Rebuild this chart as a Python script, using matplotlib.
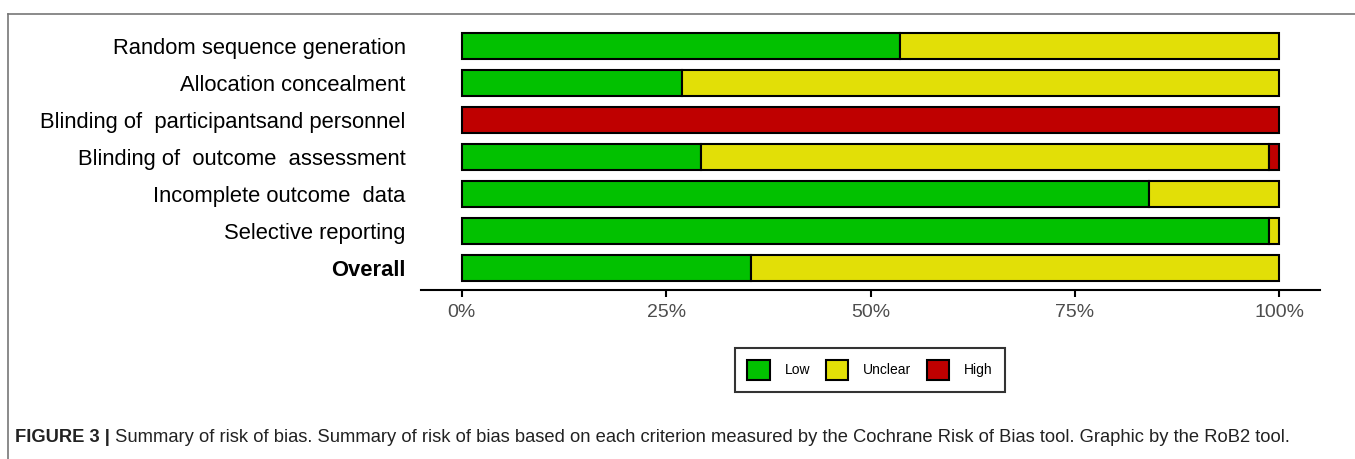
import matplotlib
matplotlib.use("Agg")
import matplotlib.pyplot as plt
from matplotlib.patches import Patch
from matplotlib.lines import Line2D

domains = ["Random sequence generation", "Allocation concealment",
           "Blinding of  participantsand personnel", "Blinding of  outcome  assessment",
           "Incomplete outcome  data", "Selective reporting", "Overall"]
low = [53.6, 26.9, 0.0, 29.3, 84.1, 98.7, 35.4]
unclear = [46.4, 73.1, 0.0, 69.4, 15.9, 1.3, 64.6]
high = [0.0, 0.0, 100.0, 1.3, 0.0, 0.0, 0.0]
levels = ["Low", "Unclear", "High"]
colors = ["#02C100", "#E2DF07", "#BF0000"]
ticks = [0, 25, 50, 75, 100]
tick_labels = ["0%", "25%", "50%", "75%", "100%"]
caption_bold = "FIGURE 3 |"
caption_rest = " Summary of risk of bias. Summary of risk of bias based on each criterion measured by the Cochrane Risk of Bias tool. Graphic by the RoB2 tool."

plt.rcParams['font.family'] = ['Liberation Sans', 'DejaVu Sans']

W, H = 1355, 459
fig = plt.figure(figsize=(W / 100, H / 100), dpi=100)
ax = fig.add_axes([421 / W, 1 - 290 / H, (1320 - 421) / W, (290 - 24) / H])

ypos = list(range(len(domains)))
series = [low, unclear, high]
left = [0.0] * len(domains)
for vals, col in zip(series, colors):
    for i, v in enumerate(vals):
        if v > 0:
            ax.barh(ypos[i], v, left=left[i], height=0.7, color=col,
                    edgecolor="black", linewidth=1.5)
    left = [l + v for l, v in zip(left, vals)]

ax.set_xlim(-5, 105)
ax.set_ylim(len(domains) - 0.4, -0.6)
ax.set_yticks(ypos)
ax.set_yticklabels(domains, fontsize=15.8, color="black")
for lbl in ax.get_yticklabels():
    if lbl.get_text() == "Overall":
        lbl.set_fontweight("bold")
ax.tick_params(axis="y", length=0, pad=11)
ax.set_xticks(ticks)
ax.set_xticklabels(tick_labels, fontsize=14, color="#4d4d4d")
ax.tick_params(axis="x", length=5, width=1.5, color="black", pad=5)
for s in ["top", "right", "left"]:
    ax.spines[s].set_visible(False)
ax.spines["bottom"].set_linewidth(1.5)

handles = [Patch(facecolor=c, edgecolor="black", linewidth=1.5, label=l)
           for c, l in zip(colors, levels)]
leg = fig.legend(handles=handles, loc="center", ncol=3,
                 bbox_to_anchor=(870 / W, 1 - 370 / H), frameon=True,
                 fontsize=10, handlelength=1.6, handleheight=1.8,
                 columnspacing=1.1, handletextpad=1.1, borderpad=0.9,
                 fancybox=False, edgecolor="black")
leg.get_frame().set_linewidth(1.5)

# figure border (top and left)
fig.add_artist(Line2D([8 / W, 1], [1 - 14 / H, 1 - 14 / H], color="#777777", lw=1.2))
fig.add_artist(Line2D([8 / W, 8 / W], [0, 1 - 14 / H], color="#777777", lw=1.2))

t1 = fig.text(15 / W, 1 - 438 / H, caption_bold, fontsize=13.2, fontweight="bold",
              va="center", ha="left", color="#222222")
fig.canvas.draw()
ext = t1.get_window_extent()
fig.text(ext.x1 / W, 1 - 438 / H, caption_rest, fontsize=13.2, va="center",
         ha="left", color="#222222")

fig.savefig("out.png", dpi=100, facecolor="white")
